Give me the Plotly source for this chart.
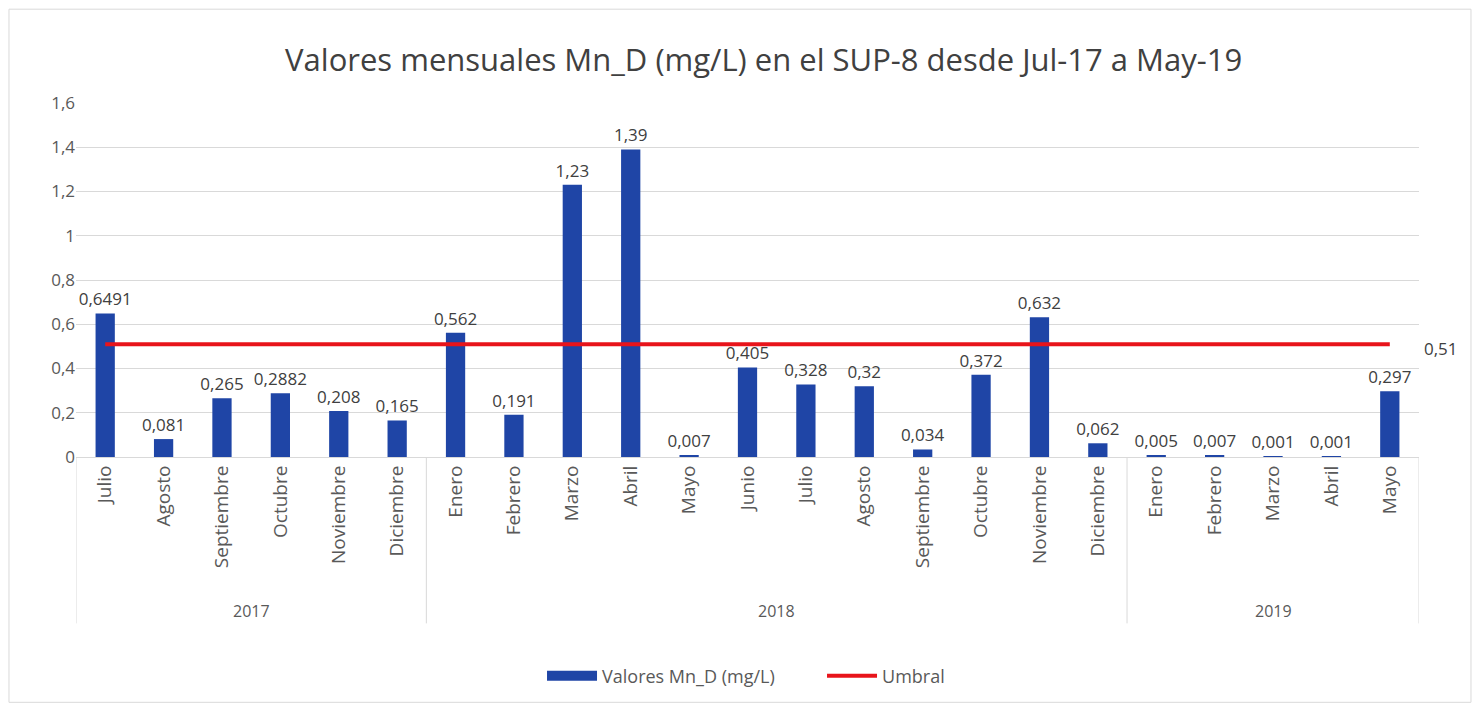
import plotly.graph_objects as go

months = ["Julio", "Agosto", "Septiembre", "Octubre", "Noviembre", "Diciembre",
          "Enero", "Febrero", "Marzo", "Abril", "Mayo", "Junio", "Julio", "Agosto",
          "Septiembre", "Octubre", "Noviembre", "Diciembre",
          "Enero", "Febrero", "Marzo", "Abril", "Mayo"]
years = ["2017", "2018", "2019"]
year_counts = [6, 12, 5]
values = [0.6491, 0.081, 0.265, 0.2882, 0.208, 0.165,
          0.562, 0.191, 1.23, 1.39, 0.007, 0.405, 0.328, 0.32,
          0.034, 0.372, 0.632, 0.062,
          0.005, 0.007, 0.001, 0.001, 0.297]
value_labels = ["0,6491", "0,081", "0,265", "0,2882", "0,208", "0,165",
                "0,562", "0,191", "1,23", "1,39", "0,007", "0,405", "0,328", "0,32",
                "0,034", "0,372", "0,632", "0,062",
                "0,005", "0,007", "0,001", "0,001", "0,297"]
threshold = 0.51
threshold_label = "0,51"
y_ticks = [0, 0.2, 0.4, 0.6, 0.8, 1, 1.2, 1.4, 1.6]

xpos = list(range(len(months)))
FONT = "Open Sans"
TXT = "#404040"
GRAY = "#595959"
BLUE = "#1F45A6"
RED = "#E8141B"

fig = go.Figure()
fig.add_trace(go.Bar(
    x=xpos, y=values, name="Valores Mn_D (mg/L)", showlegend=False, legendgroup="v",
    marker=dict(color=BLUE, line=dict(width=0)),
    text=value_labels, textposition="outside", cliponaxis=False, constraintext="none",
    textfont=dict(family=FONT, size=17, color=TXT),
))
# legend entry for the bars (wide rectangle swatch like the original)
fig.add_trace(go.Scatter(
    x=[None], y=[None], name="Valores Mn_D (mg/L)", mode="lines", legendgroup="v",
    line=dict(color=BLUE, width=14),
))
fig.add_trace(go.Scatter(
    x=xpos, y=[threshold] * len(xpos), name="Umbral", mode="lines",
    line=dict(color=RED, width=4),
))

fig.add_annotation(x=xpos[-1], y=threshold, xref="x", yref="y", text=threshold_label,
                   showarrow=False, xanchor="left", xshift=32, yshift=-4,
                   font=dict(family=FONT, size=17, color=TXT))

# year group labels and separators
start = 0
bounds = [-0.5]
for yr, cnt in zip(years, year_counts):
    center = start + (cnt - 1) / 2
    fig.add_annotation(x=center, y=-0.434, xref="x", yref="paper", text=yr,
                       showarrow=False, yanchor="middle",
                       font=dict(family=FONT, size=16, color=GRAY))
    start += cnt
    bounds.append(start - 0.5)
for b in bounds:
    fig.add_shape(type="line", xref="x", yref="paper", x0=b, x1=b, y0=0, y1=-0.47,
                  line=dict(color="#D9D9D9", width=1))

# outer chart border
fig.add_shape(type="rect", xref="paper", yref="paper", x0=-0.0499, x1=1.0387,
              y0=-0.693, y1=1.265, line=dict(color="#D9D9D9", width=1))

fig.update_layout(
    width=1464, height=697,
    margin=dict(l=68, r=53, t=95, b=247),
    paper_bgcolor="white", plot_bgcolor="white",
    separators=",.",
    title=dict(text="Valores mensuales Mn_D (mg/L) en el SUP-8 desde Jul-17 a May-19",
               x=0.512, xref="paper", xanchor="center", y=0.925, yanchor="middle",
               font=dict(family=FONT, size=31, color=TXT)),
    bargap=0.67,
    showlegend=True,
    legend=dict(orientation="h", x=0.347, xanchor="left", y=-0.614, yanchor="middle",
                font=dict(family=FONT, size=18, color=GRAY),
                itemwidth=50, traceorder="normal",
                entrywidth=215, entrywidthmode="pixels"),
    xaxis=dict(tickmode="array", tickvals=xpos, ticktext=months, tickangle=-90,
               range=[-0.5, len(months) - 0.5], showgrid=False, showline=True,
               linecolor="#D9D9D9", ticks="", ticklen=0,
               tickfont=dict(family=FONT, size=19, color=GRAY)),
    yaxis=dict(range=[0, 1.6], tickvals=y_ticks, showgrid=True, gridcolor="#D9D9D9",
               zeroline=False, showline=False, ticks="",
               tickfont=dict(family=FONT, size=17, color=GRAY)),
)

fig.write_html("out.html")
